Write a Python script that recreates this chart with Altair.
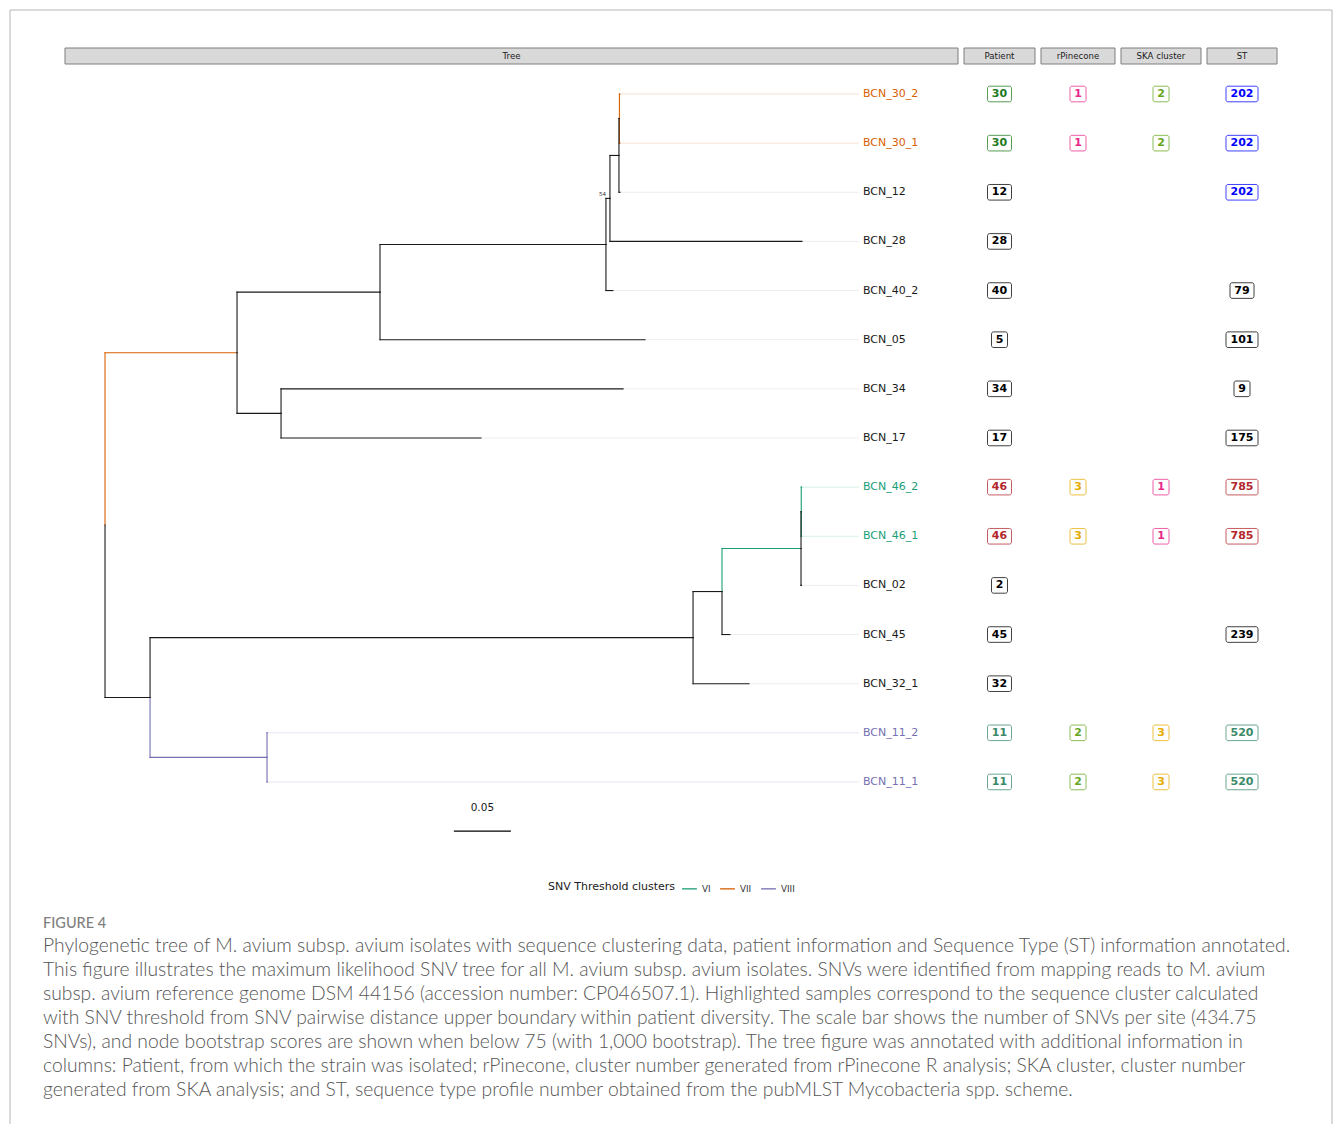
import altair as alt
import pandas as pd

# ---------------------------------------------------------------- data
# Tree topology: one entry per edge (parent -> child) with branch length
# in substitutions per site and the SNV threshold cluster of the edge.
EDGE_PARENT = ["root", "root", "n_a", "n_a", "n_b", "n_b", "n_c", "n_c",
               "n_d", "n_d", "n_f", "n_f", "n_e", "n_e", "n_k", "n_k",
               "n_l", "n_l", "n_g", "n_g", "n_h", "n_h", "n_i", "n_i",
               "n_j", "n_j", "n_m", "n_m"]
EDGE_CHILD = ["n_a", "n_l", "n_b", "n_k", "n_c", "BCN_05", "n_d", "BCN_40_2",
              "n_f", "BCN_28", "n_e", "BCN_12", "BCN_30_2", "BCN_30_1",
              "BCN_34", "BCN_17", "n_g", "n_m", "n_h", "BCN_32_1", "n_i",
              "BCN_45", "n_j", "BCN_02", "BCN_46_2", "BCN_46_1",
              "BCN_11_2", "BCN_11_1"]
EDGE_LENGTH = [0.1158, 0.0395, 0.1254, 0.0386, 0.1982, 0.2325, 0.0035, 0.0061,
               0.0079, 0.1684, 0.0004, 0.0009, 0.0004, 0.0004, 0.3000, 0.1754,
               0.4763, 0.1026, 0.0254, 0.0491, 0.0693, 0.0070, 0.0002, 0.0003,
               0.0003, 0.0003, 0.0003, 0.0003]
EDGE_CLUSTER = ["VII", "", "", "", "", "", "", "",
                "", "", "", "", "VII", "VII", "", "",
                "", "VIII", "", "", "VI", "",
                "", "", "VI", "VI", "VIII", "VIII"]

# Bootstrap support shown for nodes below 75
SUPPORT_NODE = ["n_d"]
SUPPORT_VALUE = ["54"]

# Tips from top to bottom
TIP_ORDER = ["BCN_30_2", "BCN_30_1", "BCN_12", "BCN_28", "BCN_40_2", "BCN_05",
             "BCN_34", "BCN_17", "BCN_46_2", "BCN_46_1", "BCN_02", "BCN_45",
             "BCN_32_1", "BCN_11_2", "BCN_11_1"]
TIP_CLUSTER = ["VII", "VII", "", "", "", "", "", "", "VI", "VI", "", "", "",
               "VIII", "VIII"]

# Annotation columns (empty string = no value)
PATIENT = ["30", "30", "12", "28", "40", "5", "34", "17", "46", "46", "2",
           "45", "32", "11", "11"]
RPINECONE = ["1", "1", "", "", "", "", "", "", "3", "3", "", "", "", "2", "2"]
SKA_CLUSTER = ["2", "2", "", "", "", "", "", "", "1", "1", "", "", "", "3", "3"]
ST = ["202", "202", "202", "", "79", "101", "9", "175", "785", "785", "",
      "239", "", "520", "520"]

CLUSTERS = ["VI", "VII", "VIII"]

SCALE_BAR_X = 0.306
SCALE_BAR_LEN = 0.05

CAPTION_HEAD = "FIGURE 4"
CAPTION_LINES = [
    "Phylogenetic tree of M. avium subsp. avium isolates with sequence clustering data, patient information and Sequence Type (ST) information annotated.",
    "This figure illustrates the maximum likelihood SNV tree for all M. avium subsp. avium isolates. SNVs were identified from mapping reads to M. avium",
    "subsp. avium reference genome DSM 44156 (accession number: CP046507.1). Highlighted samples correspond to the sequence cluster calculated",
    "with SNV threshold from SNV pairwise distance upper boundary within patient diversity. The scale bar shows the number of SNVs per site (434.75",
    "SNVs), and node bootstrap scores are shown when below 75 (with 1,000 bootstrap). The tree figure was annotated with additional information in",
    "columns: Patient, from which the strain was isolated; rPinecone, cluster number generated from rPinecone R analysis; SKA cluster, cluster number",
    "generated from SKA analysis; and ST, sequence type profile number obtained from the pubMLST Mycobacteria spp. scheme.",
]

# ---------------------------------------------------------------- styles
CLUSTER_COLORS = ["#1b9e77", "#d95f02", "#7570b3"]
CLUSTER_HEX = dict(zip(CLUSTERS, CLUSTER_COLORS))
EDGE_BLACK = "#1a1a1a"
BADGE_COLORS = {
    "Patient": {"30": "#1e7a1e", "46": "#b2262c", "11": "#3a8a6a"},
    "rPinecone": {"1": "#e7298a", "2": "#66a61e", "3": "#e6ab02"},
    "SKA cluster": {"1": "#e7298a", "2": "#66a61e", "3": "#e6ab02"},
    "ST": {"202": "#0000ff", "785": "#b2262c", "520": "#3a8a6a"},
}
FONT = "DejaVu Sans"

# ---------------------------------------------------------------- layout
H = 790                 # panel height (px)
ROW_PX = 49.14          # row pitch (px)
TOP_PX = 27             # offset of first row from the panel top (px)
W_TREE = 893
PANEL_W = {"Patient": 71, "rPinecone": 74, "SKA cluster": 80, "ST": 70}
X_MIN, X_MAX = -0.0351, 0.7482
Y_DOMAIN = [-TOP_PX / ROW_PX, (H - TOP_PX) / ROW_PX]

y_scale = alt.Scale(domain=Y_DOMAIN, reverse=True, zero=False, nice=False)
x_tree = alt.Scale(domain=[X_MIN, X_MAX], zero=False, nice=False)

# ---------------------------------------------------------------- tree layout
children, blen = {}, dict(zip(EDGE_CHILD, EDGE_LENGTH))
for p, c in zip(EDGE_PARENT, EDGE_CHILD):
    children.setdefault(p, []).append(c)

node_x = {"root": 0.0}


def place_x(n):
    for c in children.get(n, []):
        node_x[c] = node_x[n] + blen[c]
        place_x(c)


place_x("root")
node_y = {t: float(i) for i, t in enumerate(TIP_ORDER)}


def place_y(n):
    if n not in node_y:
        ys = [place_y(c) for c in children[n]]
        node_y[n] = sum(ys) / len(ys)
    return node_y[n]


place_y("root")

# tip edges first, internal edges drawn over them
tips = set(TIP_ORDER)
order = sorted(range(len(EDGE_CHILD)), key=lambda k: EDGE_CHILD[k] not in tips)
seg = []
for k in order:
    p, c, cl = EDGE_PARENT[k], EDGE_CHILD[k], EDGE_CLUSTER[k]
    seg.append(dict(x=node_x[p], y=node_y[p], x2=node_x[p], y2=node_y[c], cluster=cl))
    seg.append(dict(x=node_x[p], y=node_y[c], x2=node_x[c], y2=node_y[c], cluster=cl))
seg = pd.DataFrame(seg)

tip_align = max(node_x[t] for t in TIP_ORDER) + 0.05
tip_df = pd.DataFrame({
    "tip": TIP_ORDER,
    "x": [node_x[t] for t in TIP_ORDER],
    "xa": tip_align,
    "y": [node_y[t] for t in TIP_ORDER],
    "hex": [CLUSTER_HEX.get(c, EDGE_BLACK) for c in TIP_CLUSTER],
    "line": [CLUSTER_HEX.get(c, "#9a9a9a") for c in TIP_CLUSTER],
})
support_df = pd.DataFrame({
    "x": [node_x[n] for n in SUPPORT_NODE],
    "y": [node_y[n] for n in SUPPORT_NODE],
    "label": SUPPORT_VALUE,
})
bar_df = pd.DataFrame({"x": [SCALE_BAR_X], "x2": [SCALE_BAR_X + SCALE_BAR_LEN],
                       "xm": [SCALE_BAR_X + SCALE_BAR_LEN / 2],
                       "y": [len(TIP_ORDER) * 1.0], "label": [f"{SCALE_BAR_LEN:g}"]})

X = lambda f: alt.X(f, scale=x_tree, axis=None)
Y = lambda f: alt.Y(f, scale=y_scale, axis=None)


def strip(title, width):
    d = pd.DataFrame({"strip": [title]})
    box = alt.Chart(d).mark_rect(fill="#d9d9d9", stroke="#7f7f7f", strokeWidth=1).encode(
        x=alt.value(0), x2=alt.value(width), y=alt.value(-19), y2=alt.value(-3))
    txt = alt.Chart(d).mark_text(font=FONT, fontSize=8.6, color="#1a1a1a").encode(
        x=alt.value(width / 2), y=alt.value(-11), text="strip:N")
    return box + txt


one = pd.DataFrame({"k": [0]})
frame = alt.Chart(one).mark_rect(fill="transparent", stroke="#b5b5b5", strokeWidth=1).encode(
    x=alt.value(-55), x2=alt.value(1267), y=alt.value(-57), y2=alt.value(1080))

align_lines = alt.Chart(tip_df).mark_rule(strokeWidth=1, strokeOpacity=0.18).encode(
    x=X("x:Q"), x2="xa:Q", y=Y("y:Q"), color=alt.Color("line:N", scale=None))

colored = alt.Chart(seg[seg.cluster != ""]).mark_rule(strokeWidth=1.1, strokeCap="square").encode(
    x=X("x:Q"), x2="x2:Q", y=Y("y:Q"), y2="y2:Q",
    color=alt.Color("cluster:N", scale=alt.Scale(domain=CLUSTERS, range=CLUSTER_COLORS),
                    legend=alt.Legend(title="SNV Threshold clusters", orient="none",
                                      legendX=483, legendY=813, direction="horizontal",
                                      titleOrient="left", symbolType="stroke",
                                      symbolStrokeWidth=1.3, symbolSize=220,
                                      titleFont=FONT, titleFontSize=11,
                                      titleFontWeight="normal", titleColor="#1a1a1a",
                                      titleBaseline="middle",
                                      labelFont=FONT, labelFontSize=8.8, labelColor="#333333",
                                      columnPadding=6, labelOffset=4)))

black = alt.Chart(seg[seg.cluster == ""]).mark_rule(
    strokeWidth=1.1, strokeCap="square", color=EDGE_BLACK).encode(
    x=X("x:Q"), x2="x2:Q", y=Y("y:Q"), y2="y2:Q")

tip_labels = alt.Chart(tip_df).mark_text(align="left", baseline="middle", dx=4,
                                         font=FONT, fontSize=11).encode(
    x=X("xa:Q"), y=Y("y:Q"), text="tip:N", color=alt.Color("hex:N", scale=None))

support = alt.Chart(support_df).mark_text(align="right", baseline="middle", dx=-4, dy=-4,
                                          font=FONT, fontSize=5.5, color="#333333").encode(
    x=X("x:Q"), y=Y("y:Q"), text="label:N")

scale_bar = alt.Chart(bar_df).mark_rule(color="#000000", strokeWidth=1.2).encode(
    x=X("x:Q"), x2="x2:Q", y=Y("y:Q"))
scale_txt = alt.Chart(bar_df).mark_text(baseline="middle", dy=-23, font=FONT,
                                        fontSize=10.5, color="#1a1a1a").encode(
    x=X("xm:Q"), y=Y("y:Q"), text="label:N")

cap_head = alt.Chart(one).mark_text(align="left", baseline="middle", font="Lato",
                                    fontSize=14.5, fontWeight=500, color="#7f7f7f").encode(
    x=alt.value(-22), y=alt.value(857), text=alt.value(CAPTION_HEAD))
cap_body = alt.Chart(one).mark_text(align="left", baseline="top", font="Lato",
                                    fontSize=19.3, fontWeight=300, lineHeight=24,
                                    color="#555555").encode(
    x=alt.value(-22), y=alt.value(870), text=alt.value(CAPTION_LINES))

tree_panel = alt.layer(
    frame, strip("Tree", W_TREE), align_lines, colored, black, tip_labels,
    support, scale_bar, scale_txt, cap_head, cap_body,
).properties(width=W_TREE, height=H)


def badge_panel(name, values):
    w = PANEL_W[name]
    rows = [(i, v) for i, v in enumerate(values) if v]
    half = 7.8 / ROW_PX
    d = pd.DataFrame({
        "row": [r for r, _ in rows],
        "label": [v for _, v in rows],
    })
    d["hex"] = [BADGE_COLORS[name].get(v, "#000000") for v in d.label]
    d["bx"] = [-(4 + 4 * len(v)) * 2 / w for v in d.label]
    d["bx2"] = -d["bx"]
    d["by"] = d["row"] - half
    d["by2"] = d["row"] + half
    d["cx"] = 0.0
    xs = alt.Scale(domain=[-1, 1], nice=False, zero=False)
    box = alt.Chart(d).mark_rect(fill="white", strokeWidth=1, strokeOpacity=0.75,
                                 cornerRadius=2).encode(
        x=alt.X("bx:Q", scale=xs, axis=None), x2="bx2:Q",
        y=Y("by:Q"), y2="by2:Q", stroke=alt.Color("hex:N", scale=None))
    txt = alt.Chart(d).mark_text(font=FONT, fontSize=11, fontWeight="bold",
                                 baseline="middle").encode(
        x=alt.X("cx:Q", scale=xs, axis=None), y=Y("row:Q"), text="label:N",
        color=alt.Color("hex:N", scale=None))
    return alt.layer(strip(name, w), box, txt).properties(width=w, height=H)


panels = [tree_panel,
          badge_panel("Patient", PATIENT),
          badge_panel("rPinecone", RPINECONE),
          badge_panel("SKA cluster", SKA_CLUSTER),
          badge_panel("ST", ST)]

chart = alt.hconcat(*panels, spacing=6, bounds="flush").resolve_scale(x="independent").properties(
    padding={"left": 9, "top": 9, "right": 0, "bottom": 0},
    background="white",
).configure_view(stroke=None)

chart.save("out.html", embed_options={"renderer": "svg", "actions": False})
